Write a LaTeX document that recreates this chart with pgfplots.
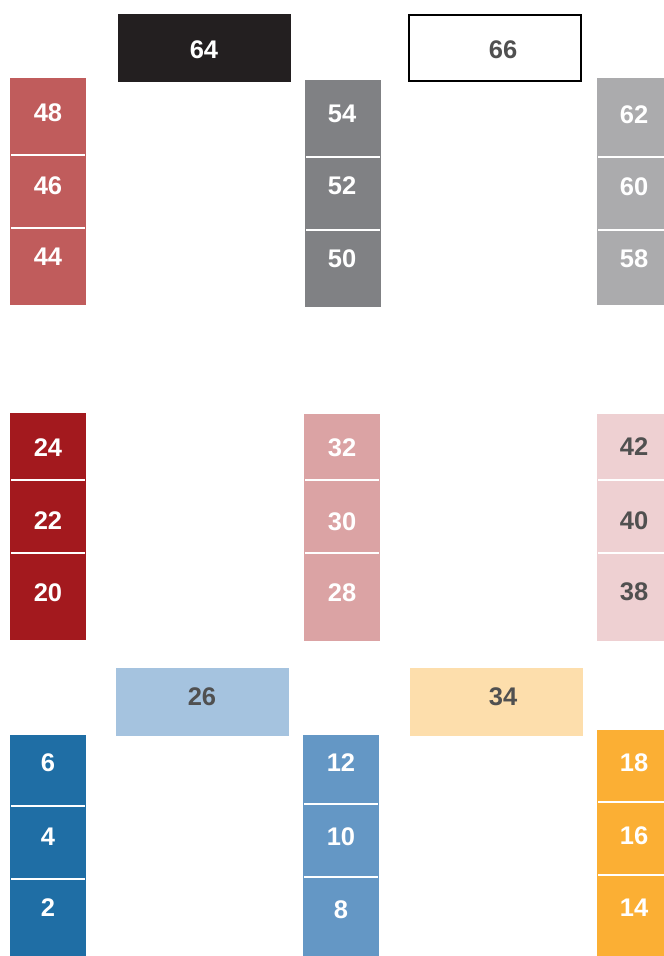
\documentclass[border=0pt]{standalone}
\usepackage{pgfplots}
\pgfplotsset{compat=1.18}
\usepackage{fontspec}
\setmainfont{Liberation Sans}
\definecolor{csalmon}{HTML}{C05C5C}
\definecolor{cblack}{HTML}{231F20}
\definecolor{cgray}{HTML}{808184}
\definecolor{clgray}{HTML}{ABABAD}
\definecolor{cdred}{HTML}{A3191E}
\definecolor{cpink}{HTML}{DBA3A4}
\definecolor{clpink}{HTML}{EED0D2}
\definecolor{cblue}{HTML}{1F6EA5}
\definecolor{cmblue}{HTML}{6497C5}
\definecolor{clblue}{HTML}{A5C3DF}
\definecolor{clorange}{HTML}{FDDEAC}
\definecolor{corange}{HTML}{FBAF34}
\definecolor{ctext}{HTML}{505050}
% rectangle: colour, x0, x1, y0, y1
\newcommand\rect[5]{\addplot[fill=#1,draw=none,mark=none] coordinates {(#2,#4) (#3,#4) (#3,#5) (#2,#5)};}
% separator: x0, x1, y
\newcommand\sep[3]{\addplot[white,line width=1.6pt,mark=none] coordinates {(#1,#3) (#2,#3)};}
\begin{document}
\begin{tikzpicture}
\begin{axis}[
  scale only axis, width=664pt, height=956pt,
  xmin=0, xmax=664, ymin=0, ymax=956, y dir=reverse,
  hide axis, clip=true,
  every node near coord/.append style={anchor=center, font=\fontsize{25.5}{30}\selectfont\bfseries},
]
\path (rel axis cs:0,0) rectangle (rel axis cs:1,1);
% column 1
\rect{csalmon}{10}{86}{78}{155}
\rect{csalmon}{10}{86}{155}{228}
\rect{csalmon}{10}{86}{228}{305}
\rect{cdred}{10}{86}{413}{480}
\rect{cdred}{10}{86}{480}{553}
\rect{cdred}{10}{86}{553}{640}
\rect{cblue}{10}{86}{735}{806}
\rect{cblue}{10}{86}{806}{879}
\rect{cblue}{10}{86}{879}{956}
% column 2
\rect{cblack}{118}{291}{14}{82}
\rect{clblue}{116}{289}{668}{736}
% column 3
\rect{cgray}{305}{381}{80}{157}
\rect{cgray}{305}{381}{157}{230}
\rect{cgray}{305}{381}{230}{307}
\rect{cpink}{304}{380}{414}{480}
\rect{cpink}{304}{380}{480}{553}
\rect{cpink}{304}{380}{553}{641}
\rect{cmblue}{303}{379}{735}{804}
\rect{cmblue}{303}{379}{804}{877}
\rect{cmblue}{303}{379}{877}{956}
% column 4
\addplot[fill=white,draw=black,line width=1.8pt,mark=none] coordinates {(409,15) (581,15) (581,81) (409,81) (409,15)} -- cycle;
\rect{clorange}{410}{583}{668}{736}
% column 5
\rect{clgray}{597}{664}{78}{157}
\rect{clgray}{597}{664}{157}{230}
\rect{clgray}{597}{664}{230}{305}
\rect{clpink}{597}{664}{414}{480}
\rect{clpink}{597}{664}{480}{553}
\rect{clpink}{597}{664}{553}{641}
\rect{corange}{597}{664}{730}{802}
\rect{corange}{597}{664}{802}{875}
\rect{corange}{597}{664}{875}{956}
% separators
\sep{11}{85}{155}\sep{11}{85}{228}
\sep{11}{85}{480}\sep{11}{85}{553}
\sep{11}{85}{806}\sep{11}{85}{879}
\sep{306}{380}{157}\sep{306}{380}{230}
\sep{305}{379}{480}\sep{305}{379}{553}
\sep{304}{378}{804}\sep{304}{378}{877}
\sep{598}{664}{157}\sep{598}{664}{230}
\sep{598}{664}{480}\sep{598}{664}{553}
\sep{598}{664}{802}\sep{598}{664}{875}
% labels (white)
\addplot[draw=none, mark=none, nodes near coords, point meta=explicit symbolic,
  every node near coord/.append style={text=white}] coordinates {
  (48,113) [48] (48,186) [46] (48,257) [44]
  (48,448) [24] (48,521) [22] (48,593) [20]
  (48,763) [6] (48,837) [4] (48,908) [2]
  (204,50) [64]
  (342,114) [54] (342,186) [52] (342,259) [50]
  (342,448) [32] (342,522) [30] (342,593) [28]
  (341,763) [12] (341,837) [10] (341,910) [8]
  (634,115) [62] (634,187) [60] (634,259) [58]
  (634,763) [18] (634,836) [16] (634,908) [14]
};
% labels (dark grey)
\addplot[draw=none, mark=none, nodes near coords, point meta=explicit symbolic,
  every node near coord/.append style={text=ctext}] coordinates {
  (503,50) [66]
  (202,697) [26]
  (503,697) [34]
  (634,447) [42] (634,521) [40] (634,592) [38]
};
\end{axis}
\end{tikzpicture}
\end{document}
